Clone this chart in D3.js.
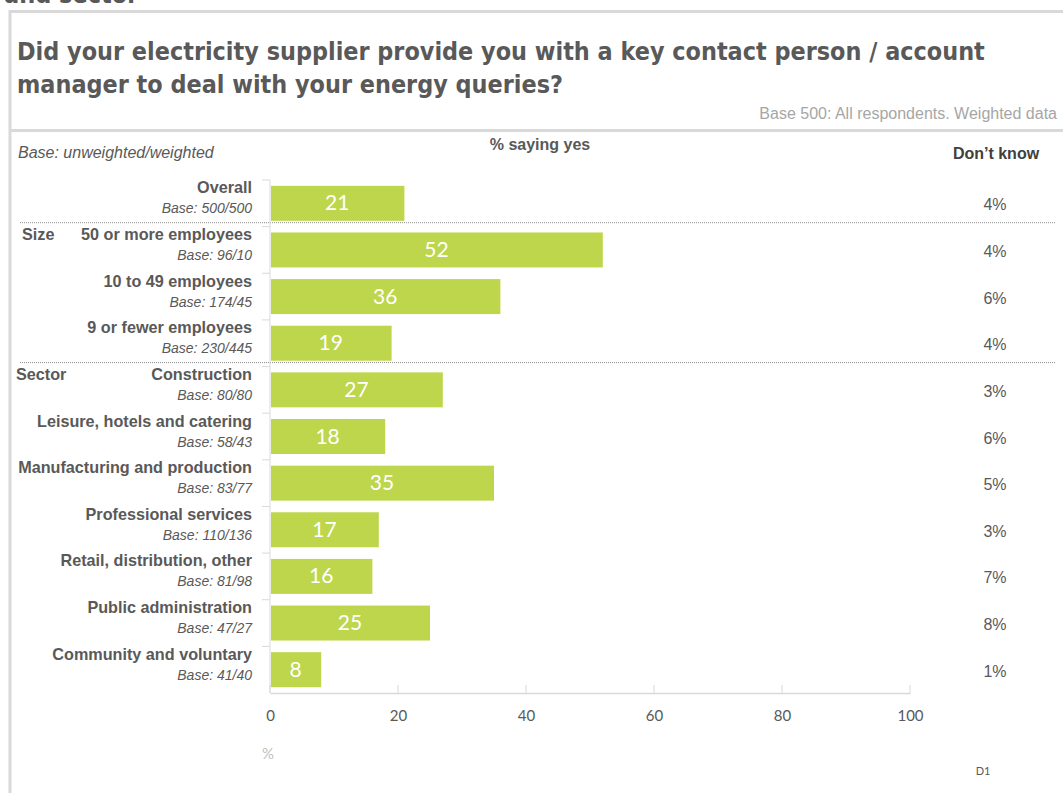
<!DOCTYPE html>
<html>
<head>
<meta charset="utf-8">
<script src="https://cdn.jsdelivr.net/npm/d3@7"></script>
<style>
  html, body { margin: 0; padding: 0; background: #fff; }
  svg { display: block; }
</style>
</head>
<body>
<svg id="chart" width="1063" height="793"></svg>
<script>
// Survey results: key contact person / account manager, by size and sector
const categories = [
  "Overall",
  "50 or more employees",
  "10 to 49 employees",
  "9 or fewer employees",
  "Construction",
  "Leisure, hotels and catering",
  "Manufacturing and production",
  "Professional services",
  "Retail, distribution, other",
  "Public administration",
  "Community and voluntary"
];
const bases = ["500/500", "96/10", "174/45", "230/445", "80/80", "58/43", "83/77", "110/136", "81/98", "47/27", "41/40"];
const yesValues = [21, 52, 36, 19, 27, 18, 35, 17, 16, 25, 8];
const dontKnow = [4, 4, 6, 4, 3, 6, 5, 3, 7, 8, 1];
const groupLabels = [
  { start: "50 or more employees", label: "Size" },
  { start: "Construction", label: "Sector" }
];
const separatorsAfter = ["Overall", "9 or fewer employees"];
const xTicks = [0, 20, 40, 60, 80, 100];

const svg = d3.select("#chart");
const grey = "#595959";
const frame = "#d9d9d9";
const barColor = "#bdd64b";
const sans = "'Liberation Sans', Arial, sans-serif";
const narrow = "Lato, 'Open Sans', sans-serif";

// Heading running off the top of the page
svg.append("text")
  .attr("x", 4).attr("y", 3)
  .attr("font-family", "'DejaVu Sans Condensed', 'DejaVu Sans', sans-serif")
  .attr("font-weight", "bold").attr("font-size", 25)
  .attr("fill", grey)
  .text("and sector");

// Frame
svg.append("path")
  .attr("d", "M10,1063 V11.5 H1063")
  .attr("fill", "none").attr("stroke", frame).attr("stroke-width", 3);
svg.append("line")
  .attr("x1", 10).attr("x2", 1063).attr("y1", 130.5).attr("y2", 130.5)
  .attr("stroke", frame).attr("stroke-width", 3);

// Title
const titleLines = [
  "Did your electricity supplier provide you with a key contact person / account",
  "manager to deal with your energy queries?"
];
svg.append("g").selectAll("text").data(titleLines).join("text")
  .attr("x", 17).attr("y", (d, i) => 60 + i * 33)
  .attr("font-family", "'DejaVu Sans Condensed', 'DejaVu Sans', sans-serif")
  .attr("font-weight", "bold").attr("font-size", 24.9)
  .attr("fill", grey)
  .text(d => d);

svg.append("text")
  .attr("x", 1057).attr("y", 119).attr("text-anchor", "end")
  .attr("font-family", sans)
  .attr("font-size", 16).attr("fill", "#a6a6a6")
  .text("Base 500: All respondents. Weighted data");

svg.append("text")
  .attr("x", 18).attr("y", 158)
  .attr("font-family", sans)
  .attr("font-size", 16).attr("font-style", "italic").attr("fill", grey)
  .text("Base: unweighted/weighted");

svg.append("text")
  .attr("x", 540).attr("y", 150).attr("text-anchor", "middle")
  .attr("font-family", sans)
  .attr("font-size", 16).attr("font-weight", "bold").attr("fill", grey)
  .text("% saying yes");

svg.append("text")
  .attr("x", 996).attr("y", 159).attr("text-anchor", "middle")
  .attr("font-family", sans)
  .attr("font-size", 16).attr("font-weight", "bold").attr("fill", "#404040")
  .text("Don\u2019t know");

// Scales
const x = d3.scaleLinear().domain([0, 100]).range([270, 910]);
const y = d3.scaleBand().domain(categories).range([180, 693])
  .paddingInner(0.25).paddingOuter(0.125);
const bw = y.bandwidth();
const step = y.step();

// Dotted separators between groups
svg.append("g").selectAll("line").data(separatorsAfter).join("line")
  .attr("x1", 20).attr("x2", 1055)
  .attr("y1", d => y(d) + bw + step * 0.04)
  .attr("y2", d => y(d) + bw + step * 0.04)
  .attr("stroke", "#8c8c8c").attr("stroke-width", 1)
  .attr("stroke-dasharray", "1,1");

// Category axis line and band ticks
svg.append("line")
  .attr("x1", x(0)).attr("x2", x(0)).attr("y1", 180).attr("y2", 693)
  .attr("stroke", frame).attr("stroke-width", 1);
svg.append("g").selectAll("line").data(categories).join("line")
  .attr("x1", x(0) - 8).attr("x2", x(0))
  .attr("y1", d => y(d) - step * 0.125)
  .attr("y2", d => y(d) - step * 0.125)
  .attr("stroke", frame);

// Value axis
const xAxis = d3.axisBottom(x).tickValues(xTicks).tickSize(0).tickPadding(17);
const gx = svg.append("g").attr("transform", "translate(0,693)").call(xAxis);
gx.select(".domain").attr("stroke", frame).attr("stroke-width", 1.5);
gx.selectAll(".tick text")
  .attr("font-family", narrow)
  .attr("font-size", 15).attr("fill", grey);
svg.append("g").selectAll("line").data(xTicks).join("line")
  .attr("x1", d => x(d)).attr("x2", d => x(d))
  .attr("y1", 685).attr("y2", 693)
  .attr("stroke", frame);

// Bars
const rows = categories.map((c, i) => ({ cat: c, base: bases[i], yes: yesValues[i], dk: dontKnow[i] }));
svg.append("g").selectAll("rect").data(rows).join("rect")
  .attr("x", x(0) + 1)
  .attr("y", d => y(d.cat))
  .attr("width", d => x(d.yes) - x(0) - 1)
  .attr("height", bw)
  .attr("fill", barColor);

// Values inside bars
svg.append("g").selectAll("text").data(rows).join("text")
  .attr("x", d => (x(0) + x(d.yes)) / 2)
  .attr("y", d => y(d.cat) + bw / 2 + 7)
  .attr("text-anchor", "middle")
  .attr("font-family", narrow)
  .attr("font-size", 21).attr("fill", "#ffffff")
  .text(d => d.yes);

// Category names and bases
const labels = svg.append("g");
labels.selectAll("text.name").data(rows).join("text")
  .attr("class", "name")
  .attr("x", 252).attr("y", d => y(d.cat) + bw / 2 - 10)
  .attr("text-anchor", "end")
  .attr("font-family", sans)
  .attr("font-size", 16.2).attr("font-weight", "bold").attr("fill", grey)
  .text(d => d.cat);
labels.selectAll("text.base").data(rows).join("text")
  .attr("class", "base")
  .attr("x", 252).attr("y", d => y(d.cat) + bw / 2 + 10)
  .attr("text-anchor", "end")
  .attr("font-family", sans)
  .attr("font-size", 14).attr("font-style", "italic").attr("fill", grey)
  .text(d => "Base: " + d.base);

// Group headings
svg.append("g").selectAll("text").data(groupLabels).join("text")
  .attr("x", (d, i) => i === 0 ? 22 : 16)
  .attr("y", d => y(d.start) + bw / 2 - 10)
  .attr("font-family", sans)
  .attr("font-size", 16.2).attr("font-weight", "bold").attr("fill", grey)
  .text(d => d.label);

// Don't know column
svg.append("g").selectAll("text").data(rows).join("text")
  .attr("x", 995).attr("y", d => y(d.cat) + bw / 2 + 7)
  .attr("text-anchor", "middle")
  .attr("font-family", sans)
  .attr("font-size", 16).attr("fill", grey)
  .text(d => d.dk + "%");

// Unit and slide reference
svg.append("text")
  .attr("x", 268).attr("y", 759).attr("text-anchor", "middle")
  .attr("font-family", narrow)
  .attr("font-size", 15).attr("fill", "#bfbfbf")
  .text("%");
svg.append("text")
  .attr("x", 983).attr("y", 775).attr("text-anchor", "middle")
  .attr("font-family", narrow)
  .attr("font-size", 11).attr("fill", grey)
  .text("D1");
</script>
</body>
</html>
